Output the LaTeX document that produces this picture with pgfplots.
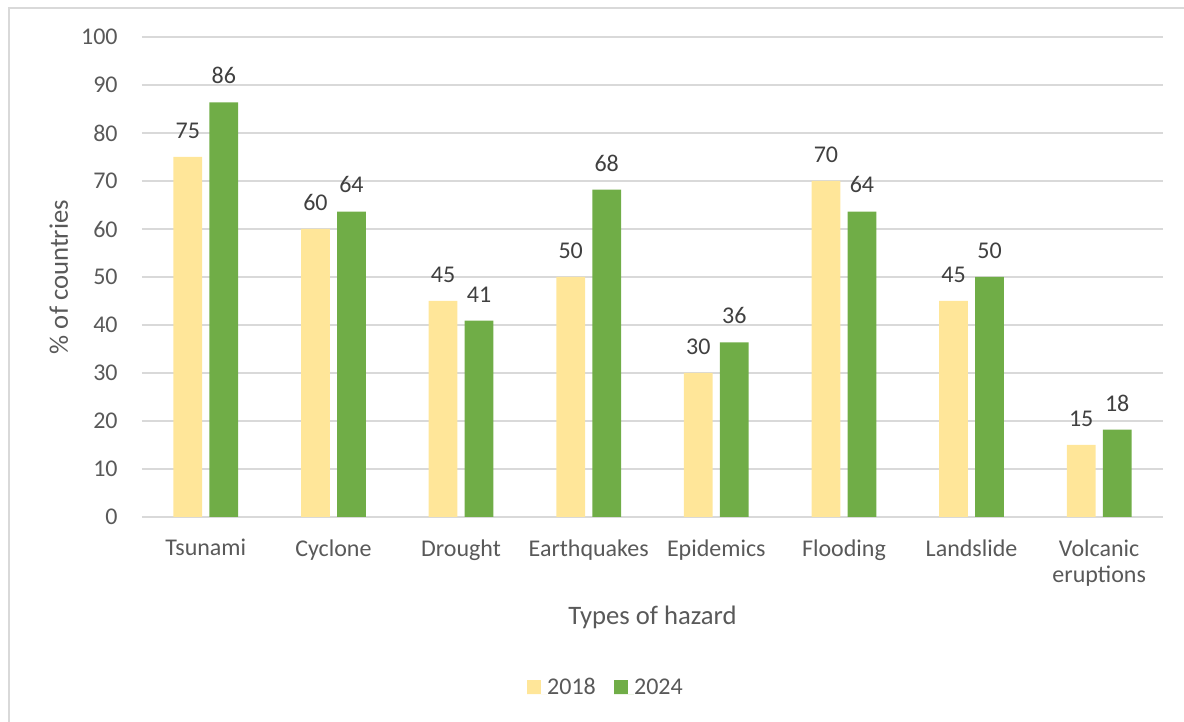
\documentclass[border=0pt]{standalone}
\usepackage{pgfplots}
\pgfplotsset{compat=1.18}
\usepackage{fontspec}
\setmainfont{Carlito}

\definecolor{yr2018}{HTML}{FFE699}
\definecolor{yr2024}{HTML}{70AD47}
\definecolor{gridgray}{HTML}{D9D9D9}
\definecolor{txtgray}{HTML}{595959}
\definecolor{lblgray}{HTML}{404040}

\begin{document}
\begin{tikzpicture}
  % frame of the chart area (only top and left edges are visible)
  \path[use as bounding box] (-71pt,-102.5pt) rectangle (521pt,258.5pt);
  \draw[gridgray, line width=1pt] (-66.5pt,-102.5pt) -- (-66.5pt,254.65pt) -- (521pt,254.65pt);
  \begin{axis}[
      at={(0,0)}, anchor=south west,
      scale only axis,
      width=510.5pt, height=240pt,
      ybar,
      bar width=14.35pt,
      xmin=-0.5, xmax=7.5,
      ymin=0, ymax=100,
      ytick={0,10,...,100},
      xtick=data,
      xticklabels={Tsunami,Cyclone,Drought,Earthquakes,Epidemics,Flooding,Landslide,{Volcanic\\eruptions}},
      axis line style={draw=none},
      major tick length=0pt,
      ymajorgrids,
      major grid style={gridgray, line width=1pt},
      /pgf/number format/assume math mode=true,
      yticklabel style={inner sep=0pt, xshift=-12pt, font=\fontsize{12}{14}\selectfont, text=txtgray},
      xticklabel style={inner sep=0pt, anchor=north, yshift=-11pt, align=center, font=\fontsize{12}{13}\selectfont, text=txtgray},
      xlabel={Types of hazard},
      ylabel={\% of countries},
      every axis x label/.style={at={([yshift=-54pt]axis description cs:0.5,0)}, anchor=base, inner sep=0pt, font=\fontsize{13.33}{16}\selectfont, text=txtgray},
      every axis y label/.style={at={([xshift=-37pt]axis description cs:0,0.5)}, rotate=90, anchor=base, inner sep=0pt, font=\fontsize{13.33}{16}\selectfont, text=txtgray},
      nodes near coords={\pgfmathprintnumber[fixed,precision=0]{\pgfplotspointmeta}},
      every node near coord/.append style={anchor=south, inner sep=0pt, yshift=9pt, font=\fontsize{12}{14}\selectfont, text=lblgray},
      legend columns=2,
      legend image code/.code={\fill[#1] (0pt,0.25pt) rectangle (7pt,7.25pt); \path (0pt,0pt) -- (10pt,0pt);},
      legend style={draw=none, fill=none, inner sep=0pt, outer sep=0pt,
        at={([xshift=231.5pt, yshift=-85.25pt]axis description cs:0,0)}, anchor=center,
        font=\fontsize{12}{14}\selectfont, text=txtgray,
        nodes={inner sep=0pt}, cells={anchor=base west},
        /tikz/every even column/.append style={column sep=9.15pt}},
    ]
    \addplot[fill=yr2018, draw=none, bar shift=-9pt] coordinates {
      (0,75) (1,60) (2,45) (3,50) (4,30) (5,70) (6,45) (7,15)};
    \addplot[fill=yr2024, draw=none, bar shift=9pt] coordinates {
      (0,86.36) (1,63.64) (2,40.91) (3,68.18) (4,36.36) (5,63.64) (6,50) (7,18.18)};
    \legend{2018,2024}
  \end{axis}
\end{tikzpicture}
\end{document}
